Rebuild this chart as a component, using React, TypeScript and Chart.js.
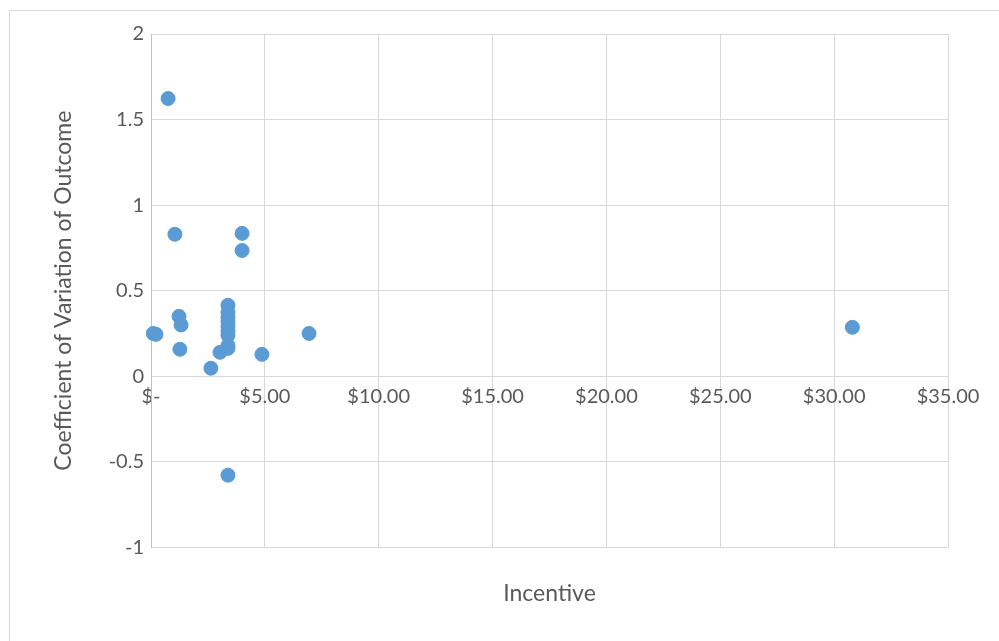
import React, { useEffect, useRef } from "react";
import { Chart, registerables } from "chart.js";

Chart.register(...registerables);

const incentive = [
  0.75, 1.05, 4.0, 4.0, 3.38, 1.23, 1.32, 0.1, 0.22, 1.27, 3.03, 2.63, 4.87, 6.94, 30.8, 3.38,
  3.38, 3.38, 3.38, 3.38, 3.38, 3.38, 3.38, 3.38,
];
const cvOutcome = [
  1.623, 0.83, 0.835, 0.735, 0.415, 0.35, 0.3, 0.25, 0.245, 0.158, 0.14, 0.047, 0.128, 0.25, 0.286, -0.578,
  0.374, 0.344, 0.321, 0.292, 0.263, 0.239, 0.18, 0.163,
];
const yTicks = [2, 1.5, 1, 0.5, 0, -0.5, -1];
const xTicks = [0, 5, 10, 15, 20, 25, 30, 35];

export default function App() {
  const ref = useRef<HTMLCanvasElement>(null);
  useEffect(() => {
    if (!ref.current) return;
    const grey = "#595959";
    const grid = "#d9d9d9";
    const chart = new Chart(ref.current, {
      type: "scatter",
      data: {
        datasets: [
          {
            data: incentive.map((x, i) => ({ x, y: cvOutcome[i] })),
            backgroundColor: "#5b9bd5",
            borderColor: "#5b9bd5",
            pointRadius: 7,
            pointHoverRadius: 7,
            clip: false as any,
          },
        ],
      },
      options: {
        responsive: false,
        animation: false,
        layout: { padding: { left: 50, top: 34, right: 51, bottom: 0 } },
        plugins: {
          legend: { display: false },
          tooltip: { enabled: false },
          title: {
            display: true,
            text: "Incentive",
            position: "bottom",
            fullSize: false,
            color: grey,
            font: { family: "Lato", size: 23, weight: "normal" },
            padding: { top: 32, bottom: 34 },
          },
        },
        scales: {
          x: {
            type: "linear",
            min: 0,
            max: 35,
            position: { y: 0 } as any,
            afterBuildTicks: (axis: any) => {
              axis.ticks = xTicks.map((v) => ({ value: v }));
            },
            ticks: {
              color: grey,
              font: { family: "Lato", size: 20 },
              padding: 8,
              maxRotation: 0,
              callback: (v: any) => (Number(v) === 0 ? "$-" : "$" + Number(v).toFixed(2)),
            },
            grid: { color: grid, lineWidth: 1, drawTicks: false },
            border: { display: false },
          },
          y: {
            type: "linear",
            min: -1,
            max: 2,
            afterBuildTicks: (axis: any) => {
              axis.ticks = yTicks.map((v) => ({ value: v }));
            },
            afterFit: (axis: any) => {
              axis.width = 101;
            },
            ticks: {
              color: grey,
              font: { family: "Lato", size: 20 },
              padding: 7,
              callback: (v: any) => String(v),
            },
            grid: { color: grid, lineWidth: 1, drawTicks: false },
            border: { color: "#bfbfbf" },
            title: {
              display: true,
              text: "Coefficient of Variation of Outcome",
              color: grey,
              font: { family: "Lato", size: 23 },
              padding: 0,
            },
          },
        },
      },
    });
    return () => chart.destroy();
  }, []);
  return (
    <div style={{ position: "fixed", left: 0, top: 0, width: 999, height: 641, overflow: "hidden", background: "#fff" }}>
      <div
        style={{
          position: "absolute",
          left: 9,
          top: 10,
          width: 1100,
          height: 800,
          border: "1.5px solid #d9d9d9",
        }}
      />
      <canvas ref={ref} width={999} height={641} style={{ position: "absolute", left: 0, top: 0 }} />
    </div>
  );
}
